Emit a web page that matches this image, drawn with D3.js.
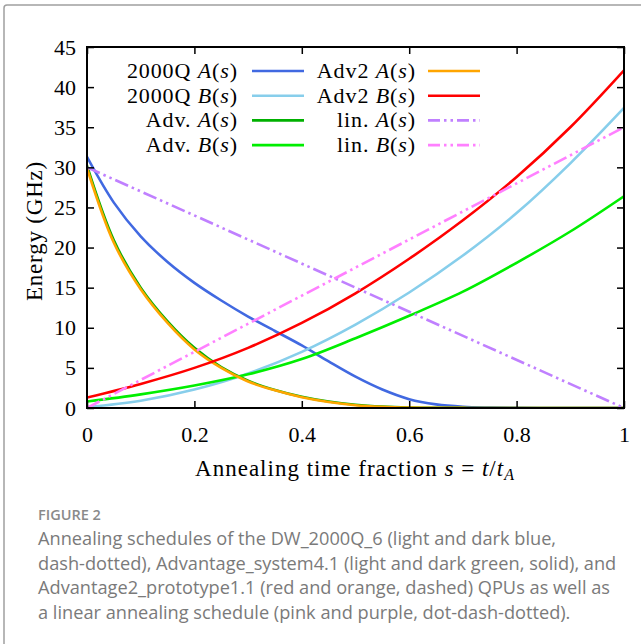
<!DOCTYPE html>
<html>
<head>
<meta charset="utf-8">
<script src="https://cdn.jsdelivr.net/npm/d3@7"></script>
<style>
  body { margin: 0; background: #fff; }
  svg { display: block; }
</style>
</head>
<body>
<svg id="chart"></svg>
<script>
// annealing fraction grids
const sFine = [0, 0.05, 0.1, 0.15, 0.2, 0.25, 0.3, 0.35, 0.4, 0.45, 0.5,
               0.55, 0.6, 0.65, 0.7, 0.75, 0.8, 0.85, 0.9, 0.95, 1];
const sCoarse = [0, 0.1, 0.2, 0.3, 0.4, 0.5, 0.6, 0.7, 0.8, 0.9, 1];
const sLin = [0, 1];

// A(s) curves, read on the fine grid (GHz)
const q2000A = [31.3, 25.6, 21.4, 18.2, 15.6, 13.4, 11.4, 9.6, 7.8, 5.8, 3.9,
                2.3, 1.1, 0.45, 0.15, 0.05, 0.01, 0, 0, 0, 0];
const advA   = [30.2, 20.9, 15.0, 10.8, 7.5, 5.1, 3.4, 2.25, 1.4, 0.8, 0.4,
                0.17, 0.06, 0.02, 0.01, 0, 0, 0, 0, 0, 0];
const adv2A  = [29.9, 20.6, 14.8, 10.6, 7.3, 5.0, 3.3, 2.2, 1.35, 0.75, 0.35,
                0.15, 0.05, 0.02, 0.01, 0, 0, 0, 0, 0, 0];

// B(s) curves, read on the coarse grid (GHz)
const q2000B = [0.1, 0.9, 2.3, 4.3, 7.0, 10.4, 14.4, 19.0, 24.3, 30.5, 37.4];
const advB   = [0.8, 1.7, 2.8, 4.2, 6.1, 8.7, 11.5, 14.5, 18.1, 22.0, 26.4];
const adv2B  = [1.3, 3.0, 5.0, 7.5, 10.6, 14.3, 18.6, 23.4, 28.8, 35.0, 42.1];

// linear schedule
const linA = [30, 0];
const linB = [0, 35];

const xTicks = [0, 0.2, 0.4, 0.6, 0.8, 1];
const xTickLabels = ["0", "0.2", "0.4", "0.6", "0.8", "1"];
const yTicks = [0, 5, 10, 15, 20, 25, 30, 35, 40, 45];
const yTickLabels = ["0", "5", "10", "15", "20", "25", "30", "35", "40", "45"];

const legendNames = ["2000Q", "2000Q", "Adv.", "Adv.", "Adv2", "Adv2", "lin.", "lin."];
const legendSyms = ["A", "B", "A", "B", "A", "B", "A", "B"];

const captionTitle = "FIGURE 2";
const captionLines = [
  "Annealing schedules of the DW_2000Q_6 (light and dark blue,",
  "dash-dotted), Advantage_system4.1 (light and dark green, solid), and",
  "Advantage2_prototype1.1 (red and orange, dashed) QPUs as well as",
  "a linear annealing schedule (pink and purple, dot-dash-dotted)."
];

const series = [
  {s: sFine,   v: q2000A, color: "#4169e1", dash: null},
  {s: sCoarse, v: q2000B, color: "#87ceeb", dash: null},
  {s: sFine,   v: advA,   color: "#00b000", dash: null},
  {s: sCoarse, v: advB,   color: "#00ee00", dash: null},
  {s: sFine,   v: adv2A,  color: "#ffa500", dash: null},
  {s: sCoarse, v: adv2B,  color: "#ff0000", dash: null},
  {s: sLin,    v: linA,   color: "#c080ff", dash: "14,4,2.5,4,2.5,4"},
  {s: sLin,    v: linB,   color: "#ff80ff", dash: "14,4,2.5,4,2.5,4"}
];

const W = 641, H = 644;
const serif = "'Liberation Serif', 'DejaVu Serif', serif";

const svg = d3.select("#chart").attr("width", W).attr("height", H);

// page frame
svg.append("rect")
    .attr("x", 4).attr("y", 5)
    .attr("width", 700).attr("height", 700)
    .attr("rx", 3)
    .attr("fill", "none")
    .attr("stroke", "#a0a0a0")
    .attr("stroke-width", 1.5);

const x = d3.scaleLinear().domain([0, 1]).range([87, 624]);
const y = d3.scaleLinear().domain([0, 45]).range([408, 47]);

svg.append("clipPath").attr("id", "clip")
  .append("rect")
    .attr("x", x(0)).attr("y", y(45))
    .attr("width", x(1) - x(0)).attr("height", y(0) - y(45) + 1);

const plot = svg.append("g").attr("clip-path", "url(#clip)");

// curves
const line = d3.line()
    .x(d => x(d[0]))
    .y(d => y(d[1]))
    .curve(d3.curveCatmullRom.alpha(0.5));

series.forEach(sr => {
  plot.append("path")
      .datum(sr.s.map((t, i) => [t, sr.v[i]]))
      .attr("d", line)
      .attr("fill", "none")
      .attr("stroke", sr.color)
      .attr("stroke-width", 2.6)
      .attr("stroke-dasharray", sr.dash);
});

// axes, ticks pointing inward
function styleAxis(g) {
  g.select(".domain").remove();
  g.selectAll(".tick line").attr("stroke", "#000").attr("stroke-width", 1.5);
  g.selectAll(".tick text")
      .attr("fill", "#000")
      .attr("font-family", serif)
      .attr("font-size", 22);
}

svg.append("g")
    .attr("transform", "translate(0,408)")
    .call(d3.axisBottom(x).tickValues(xTicks)
      .tickFormat((d, i) => xTickLabels[i]).tickSize(-7).tickPadding(18))
    .call(styleAxis);

svg.append("g")
    .attr("transform", "translate(87,0)")
    .call(d3.axisLeft(y).tickValues(yTicks)
      .tickFormat((d, i) => yTickLabels[i]).tickSize(-7).tickPadding(11))
    .call(styleAxis);

svg.append("g")
    .attr("transform", "translate(0,47)")
    .call(d3.axisTop(x).tickValues(xTicks).tickFormat("").tickSize(-7))
    .call(styleAxis);

svg.append("g")
    .attr("transform", "translate(624,0)")
    .call(d3.axisRight(y).tickValues(yTicks).tickFormat("").tickSize(-7))
    .call(styleAxis);

// plot box
svg.append("rect")
    .attr("x", x(0)).attr("y", y(45))
    .attr("width", x(1) - x(0)).attr("height", y(0) - y(45))
    .attr("fill", "none")
    .attr("stroke", "#000")
    .attr("stroke-width", 2);

// legend
const legend = svg.append("g")
    .attr("font-family", serif)
    .attr("font-size", 22)
    .attr("letter-spacing", 0.9);
series.forEach((sr, i) => {
  const col = Math.floor(i / 4), row = i % 4;
  const textEnd = col === 0 ? 238 : 416;
  const x0 = col === 0 ? 252 : 428;
  const yy = 71 + row * 24.7;
  const t = legend.append("text")
      .attr("x", textEnd).attr("y", yy + 7)
      .attr("text-anchor", "end");
  t.append("tspan").text(legendNames[i] + " ");
  t.append("tspan").attr("font-style", "italic").text(legendSyms[i]);
  t.append("tspan").text("(");
  t.append("tspan").attr("font-style", "italic").text("s");
  t.append("tspan").text(")");
  legend.append("line")
      .attr("x1", x0).attr("x2", x0 + 52)
      .attr("y1", yy).attr("y2", yy)
      .attr("stroke", sr.color)
      .attr("stroke-width", 2.6)
      .attr("stroke-dasharray", sr.dash ? "12,4,2.5,4,2.5,4" : null);
});

// axis titles
svg.append("text")
    .attr("transform", "translate(42,231) rotate(-90)")
    .attr("text-anchor", "middle")
    .attr("font-family", serif)
    .attr("font-size", 23)
    .attr("letter-spacing", 0.8)
    .text("Energy (GHz)");

const xt = svg.append("text")
    .attr("x", 355).attr("y", 476)
    .attr("text-anchor", "middle")
    .attr("font-family", serif)
    .attr("font-size", 23)
    .attr("letter-spacing", 1);
xt.append("tspan").text("Annealing time fraction ");
xt.append("tspan").attr("font-style", "italic").text("s");
xt.append("tspan").text(" = ");
xt.append("tspan").attr("font-style", "italic").text("t");
xt.append("tspan").text("/");
xt.append("tspan").attr("font-style", "italic").text("t");
xt.append("tspan").attr("font-style", "italic").attr("font-size", 16)
    .attr("dy", 4).text("A");

// caption
svg.append("text")
    .attr("x", 38).attr("y", 520)
    .attr("font-family", "'Open Sans', sans-serif")
    .attr("font-size", 14.5)
    .attr("font-weight", 600)
    .attr("fill", "#8a8a8a")
    .text(captionTitle);

svg.append("g").selectAll("text")
  .data(captionLines)
  .join("text")
    .attr("x", 38)
    .attr("y", (d, i) => 545 + i * 24.6)
    .attr("font-family", "'Open Sans', sans-serif")
    .attr("font-size", 18.2)
    .attr("fill", "#7a7a7a")
    .text(d => d);
</script>
</body>
</html>
